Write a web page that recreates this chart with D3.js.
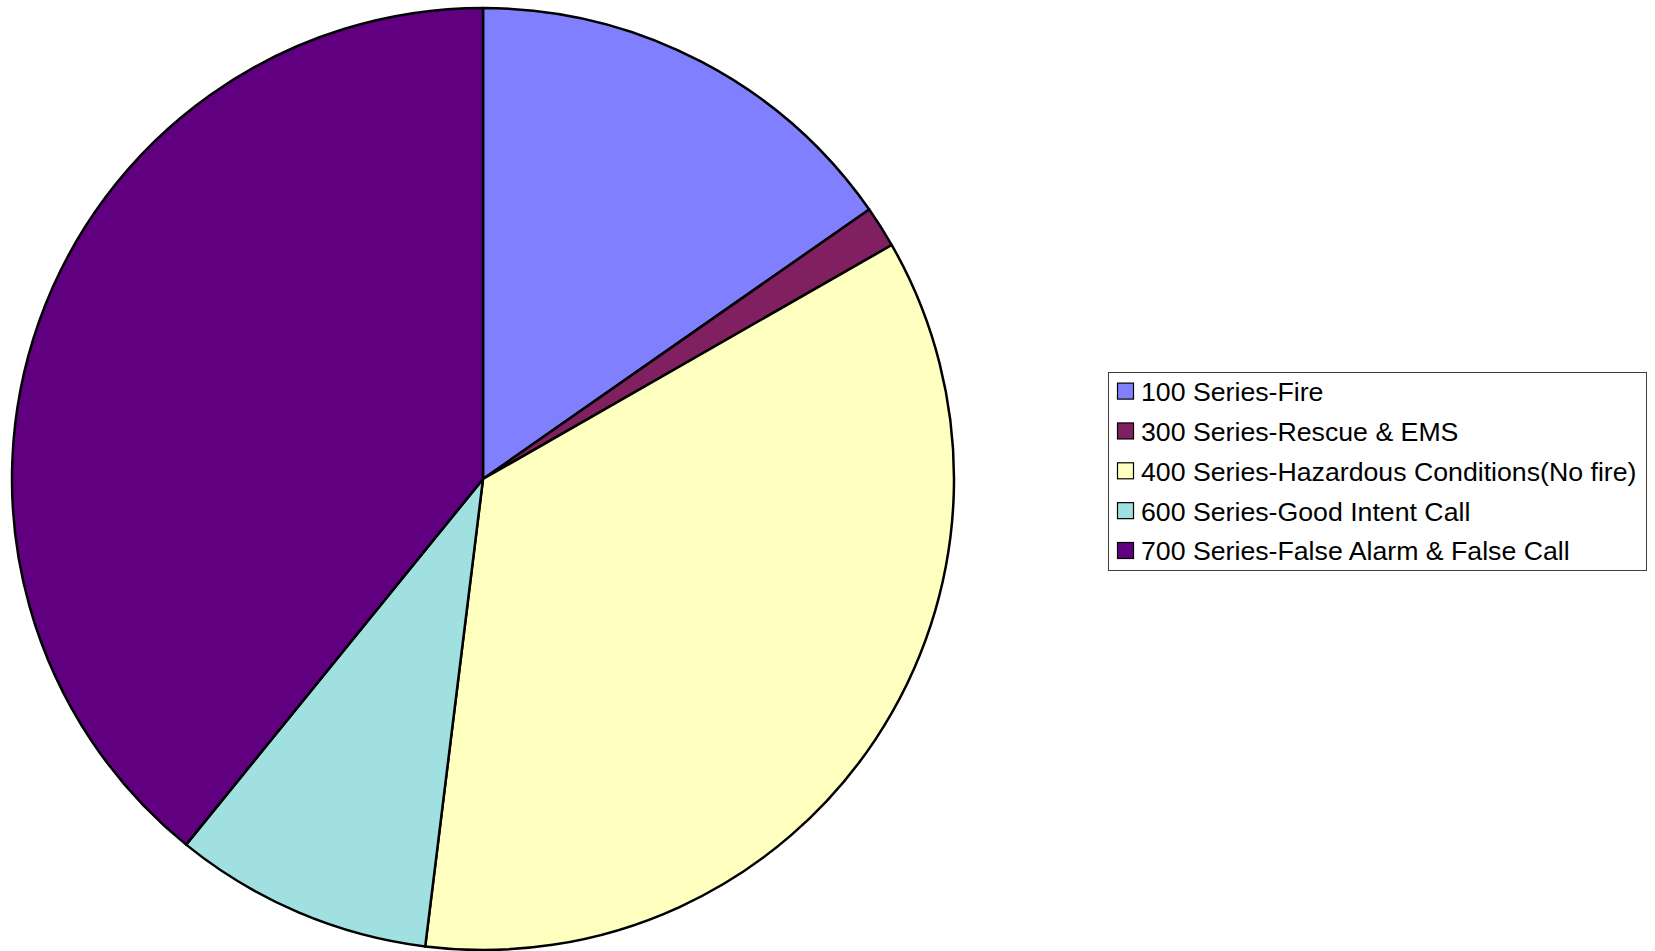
<!DOCTYPE html>
<html>
<head>
<meta charset="utf-8">
<script src="https://cdn.jsdelivr.net/npm/d3@7"></script>
<style>
  html, body { margin: 0; padding: 0; background: #fff; }
  svg { display: block; }
</style>
</head>
<body>
<svg id="chart" width="1655" height="951"></svg>
<script>
const categories = [
  "100 Series-Fire",
  "300 Series-Rescue & EMS",
  "400 Series-Hazardous Conditions(No fire)",
  "600 Series-Good Intent Call",
  "700 Series-False Alarm & False Call"
];
const values = [43, 4, 99, 25, 110];
const colors = ["#8080FF", "#802060", "#FFFFC0", "#A0E0E0", "#600080"];

const svg = d3.select("#chart");
const cx = 483, cy = 479, r = 471;

const pie = d3.pie().sort(null).value(d => d.value);
const arc = d3.arc().innerRadius(0).outerRadius(r);
const data = categories.map((c, i) => ({ name: c, value: values[i], color: colors[i] }));

const g = svg.append("g").attr("transform", `translate(${cx},${cy})`);
g.selectAll("path")
  .data(pie(data))
  .join("path")
  .attr("d", arc)
  .attr("fill", d => d.data.color)
  .attr("stroke", "#000")
  .attr("stroke-width", 2.5)
  .attr("stroke-linejoin", "round");

// Legend
const lx = 1108, ly = 372, lw = 538, lh = 198;
const legend = svg.append("g");
legend.append("rect")
  .attr("x", lx + 0.5).attr("y", ly + 0.5)
  .attr("width", lw).attr("height", lh)
  .attr("fill", "#fff").attr("stroke", "#404040").attr("stroke-width", 1);

const rowY = d3.scalePoint().domain(categories).range([ly + 19.6, ly + 179]);
const items = legend.selectAll("g.item").data(data).join("g")
  .attr("class", "item")
  .attr("transform", d => `translate(${lx}, ${rowY(d.name)})`);
items.append("rect")
  .attr("x", 9.5).attr("y", -8.5).attr("width", 16).attr("height", 16)
  .attr("fill", d => d.color).attr("stroke", "#000").attr("stroke-width", 1.2);
items.append("text")
  .attr("x", 33).attr("y", 0).attr("dy", "0.35em")
  .attr("font-family", "Liberation Sans, Arial, sans-serif")
  .attr("font-size", 26.7)
  .attr("fill", "#000")
  .text(d => d.name);
</script>
</body>
</html>
